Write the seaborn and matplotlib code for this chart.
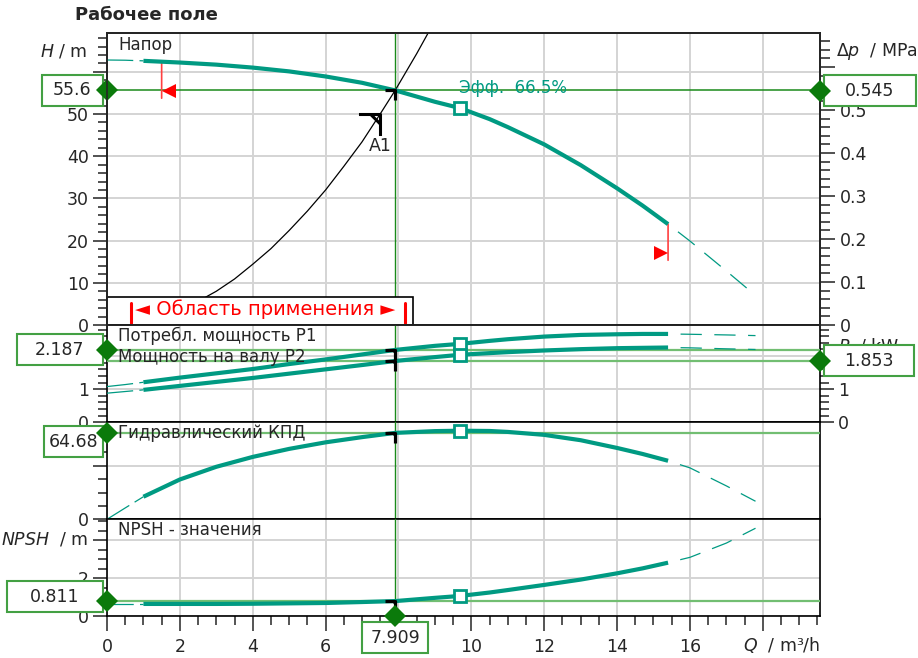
import matplotlib
matplotlib.use("Agg")
import matplotlib.pyplot as plt
import matplotlib.ticker as mticker
from matplotlib.patches import Rectangle
from matplotlib.path import Path
from matplotlib.transforms import offset_copy
import pandas as pd
import seaborn as sns

# ---- данные ----
Q = [0, 0.5, 1, 2, 3, 4, 5, 6, 7, 7.909, 9, 9.69, 10.5, 11, 12, 13, 14, 14.7, 15.4, 16, 17, 17.8]
H = [62.8, 62.75, 62.6, 62.2, 61.7, 61.0, 60.1, 58.9, 57.4, 55.6, 52.9, 51.4, 48.8, 46.9,
     42.8, 37.9, 32.4, 28.3, 23.9, 19.9, 12.8, 7.0]
P1 = [1.08, 1.14, 1.21, 1.35, 1.48, 1.61, 1.76, 1.90, 2.05, 2.187, 2.31, 2.37, 2.46, 2.51,
      2.59, 2.64, 2.66, 2.67, 2.67, 2.66, 2.64, 2.62]
P2 = [0.88, 0.93, 0.98, 1.10, 1.22, 1.34, 1.47, 1.60, 1.73, 1.853, 1.97, 2.04, 2.09, 2.12,
      2.17, 2.21, 2.24, 2.25, 2.26, 2.25, 2.22, 2.20]
ETA = [0, 8.5, 16.9, 29.8, 39.3, 46.7, 52.7, 57.6, 61.5, 64.68, 66.0, 66.3, 66.1, 65.4,
       63.2, 59.2, 53.4, 48.9, 43.8, 38.5, 25.0, 13.5]
NPSH = [0.65, 0.65, 0.65, 0.65, 0.65, 0.66, 0.68, 0.70, 0.75, 0.80, 0.97, 1.07, 1.25, 1.38,
        1.65, 1.93, 2.26, 2.52, 2.82, 3.10, 3.85, 4.63]

# характеристика сети
Q_SYS = [0, 0.5, 1, 1.5, 2, 2.5, 3, 3.5, 4, 4.5, 5, 5.5, 6, 6.5, 7, 7.49, 7.909, 8.5, 9]
H_SYS = [0, 0.2, 0.9, 2.0, 3.6, 5.6, 8.0, 10.9, 14.4, 18.1, 22.4, 27.0, 32.0, 37.6, 43.4,
         49.9, 55.6, 64.3, 72.1]

Q_OP = 7.909
H_OP = 55.6
DP_OP = 0.545
P1_OP = 2.187
P2_OP = 1.853
ETA_OP = 64.68
NPSH_OP = 0.811
Q_BEP = 9.69
ETA_BEP = 66.5
A1 = (7.49, 49.9)
Q_MIN, Q_MAX = 1.5, 15.4   # границы области применения
Q_THICK = (1.0, 15.4)

TEAL = "#009a82"
DKGREEN = "#1a8a1a"
LTGREEN = "#72be72"
BOXGREEN = "#43a043"
MARKGREEN = "#0b7a0b"
GRID = "#d4d4d4"

sns.set_style("ticks")
plt.rcParams["font.family"] = ["DejaVu Sans"]
plt.rcParams["mathtext.fontset"] = "dejavusans"

df = pd.DataFrame({"Q": Q, "H": H, "P1": P1, "P2": P2, "ETA": ETA, "NPSH": NPSH})
i_bep = Q.index(Q_BEP)

W, HH = 918, 658
fig = plt.figure(figsize=(W / 100, HH / 100), dpi=100)
fig.patch.set_facecolor("white")

XL, XR = 107, 820
def add_panel(top, bottom):
    return fig.add_axes([XL / W, 1 - bottom / HH, (XR - XL) / W, (bottom - top) / HH])

ax_h = add_panel(33, 325)
ax_p = add_panel(325, 422.3)
ax_e = add_panel(422.3, 519.3)
ax_n = add_panel(519.3, 616.3)
axes = [ax_h, ax_p, ax_e, ax_n]

XMAX = 19.57
ylims = {ax_h: (0, 69.2), ax_p: (0, 2.94), ax_e: (0, 72.6), ax_n: (0, 5.1)}
majors = {ax_h: 10, ax_p: 1, ax_e: 40, ax_n: 2}
minors = {ax_h: 2, ax_p: 0.2, ax_e: 10, ax_n: 0.5}
shown = {ax_h: [0, 10, 20, 30, 40, 50], ax_p: [0, 1], ax_e: [0], ax_n: [0, 2]}


def label_only(vals):
    def f(v, pos):
        for s in vals:
            if abs(v - s) < 1e-6:
                return f"{s:g}"
        return ""
    return mticker.FuncFormatter(f)


for ax in axes:
    ax.set_xlim(0, XMAX)
    ax.set_ylim(*ylims[ax])
    ax.set_axisbelow(True)
    ax.xaxis.set_major_locator(mticker.MultipleLocator(2))
    ax.xaxis.set_minor_locator(mticker.MultipleLocator(0.5))
    ax.yaxis.set_major_locator(mticker.MultipleLocator(majors[ax]))
    ax.yaxis.set_minor_locator(mticker.MultipleLocator(minors[ax]))
    ax.yaxis.set_major_formatter(label_only(shown[ax]))
    ax.grid(True, which="major", color=GRID, lw=1.4)
    ax.tick_params(axis="y", which="major", direction="out", length=10, width=1.1,
                   labelsize=12.5, pad=3, color="#222222")
    ax.tick_params(axis="y", which="minor", direction="out", length=6.5, width=1.1, color="#222222")
    ax.tick_params(axis="x", which="both", length=0, labelbottom=False)
    for s in ax.spines.values():
        s.set_color("black")
        s.set_linewidth(1.2)

# нижняя ось Q
ax_n.tick_params(axis="x", which="major", length=10.5, width=1.1, labelbottom=True,
                 labelsize=12.5, pad=5)
ax_n.tick_params(axis="x", which="minor", length=6.5, width=1.1)
ax_n.xaxis.set_major_formatter(label_only([0, 2, 4, 6, 10, 12, 14, 16]))

# мощность: шкала и справа
ax_p.tick_params(axis="y", which="both", right=True, labelright=True)

# давление справа
ax_dp = ax_h.twinx()
ax_dp.set_ylim(0, 69.2 * 0.00981)
ax_dp.yaxis.set_major_locator(mticker.MultipleLocator(0.1))
ax_dp.yaxis.set_minor_locator(mticker.MultipleLocator(0.02))
ax_dp.yaxis.set_major_formatter(label_only([0, 0.1, 0.2, 0.3, 0.4, 0.5]))
ax_dp.tick_params(axis="y", which="major", direction="out", length=10.5, width=1.1,
                  labelsize=12.5, pad=3.5, color="#222222")
ax_dp.tick_params(axis="y", which="minor", direction="out", length=7, width=1.1, color="#222222")
for s in ax_dp.spines.values():
    s.set_linewidth(1.2)


def draw_curve(ax, col):
    lo, hi = Q_THICK
    left = df[df.Q <= lo]
    mid = df[(df.Q >= lo) & (df.Q <= hi)]
    right = df[df.Q >= hi]
    sns.lineplot(data=left, x="Q", y=col, ax=ax, color=TEAL, lw=0.9,
                 linestyle=(0, (21, 5)), zorder=4)
    sns.lineplot(data=mid, x="Q", y=col, ax=ax, color=TEAL, lw=3.0,
                 solid_capstyle="butt", solid_joinstyle="round", zorder=4)
    sns.lineplot(data=right, x="Q", y=col, ax=ax, color=TEAL, lw=0.9,
                 linestyle=(17, (17, 10)), zorder=4)
    ax.plot(Q_BEP, df[col].iloc[i_bep], marker="s", ms=8, mfc="white", mec=TEAL,
            mew=2, zorder=6)
    ax.set_xlabel("")
    ax.set_ylabel("")


# рабочая точка: линии
for ax in axes:
    ax.axvline(Q_OP, color=DKGREEN, lw=1.0, zorder=3)
ax_h.axhline(H_OP, color=DKGREEN, lw=1.1, zorder=3)
ax_p.axhline(P1_OP, color=LTGREEN, lw=1.6, zorder=3)
ax_p.axhline(P2_OP, color=LTGREEN, lw=1.6, zorder=3)
ax_e.axhline(ETA_OP, color=LTGREEN, lw=1.6, zorder=3)
ax_n.axhline(NPSH_OP, color=LTGREEN, lw=1.6, zorder=3)

# кривая сети
sns.lineplot(x=Q_SYS, y=H_SYS, ax=ax_h, color="black", lw=0.9, zorder=3)

draw_curve(ax_h, "H")
draw_curve(ax_p, "P1")
draw_curve(ax_p, "P2")
draw_curve(ax_e, "ETA")
draw_curve(ax_n, "NPSH")

# уголки рабочей точки
corner = Path([(-1, 0), (0, 0), (0, -1)], [Path.MOVETO, Path.LINETO, Path.LINETO])
corner_tri = Path([(-1, 0), (0, 0), (0, -1), (-1, 0)],
                  [Path.MOVETO, Path.LINETO, Path.LINETO, Path.CLOSEPOLY])
for ax, val in [(ax_h, H_OP), (ax_p, P1_OP), (ax_p, P2_OP), (ax_e, ETA_OP), (ax_n, NPSH_OP)]:
    ax.plot(Q_OP, val, marker=corner, ms=15, mew=2.3, mec="black", mfc="none",
            zorder=7, clip_on=False)
    ax.plot(Q_OP, val, marker=corner_tri, ms=5.5, mew=0, mfc="black", zorder=7)

a1_mark = Path([(-1, 0), (0, 0), (0, -1), (-0.45, 0), (0, -0.45)],
               [Path.MOVETO, Path.LINETO, Path.LINETO, Path.MOVETO, Path.LINETO])
ax_h.plot(*A1, marker=a1_mark, ms=31, mew=2.2, mec="black", mfc="none", zorder=7)
ax_h.annotate("A1", xy=A1, xytext=(0, -23), textcoords="offset points",
              ha="center", va="center", fontsize=12.5, zorder=7)

# границы области применения (красные)
h_min = df.H.iloc[Q.index(1)] - 0.3
h_max = df.H.iloc[Q.index(Q_MAX)]
for q, h, mk, dx in [(Q_MIN, h_min, "<", 5), (Q_MAX, h_max, ">", -5)]:
    ax_h.annotate("", xy=(q, h), xytext=(0, -26), textcoords="offset points",
                  xycoords="data", arrowprops=dict(arrowstyle="-", color="#ff4040", lw=1.2,
                                                   shrinkA=0, shrinkB=0))
    ax_h.plot(q, h, marker=mk, ms=10, color="#ff0000", mew=0, zorder=6,
              transform=offset_copy(ax_h.transData, fig=fig, x=dx, y=-21, units="points"))

ax_h.annotate(f"Эфф.  {ETA_BEP}%", xy=(Q_BEP, df.H.iloc[i_bep]), xytext=(-1, 8),
              textcoords="offset points", ha="left", va="bottom", color=TEAL,
              fontsize=12, zorder=7)

# плашка "Область применения"
bw = (413.3 - XL) / (XR - XL)
bh = (325 - 296.7) / 292
ax_h.add_patch(Rectangle((0, 0), bw, bh, transform=ax_h.transAxes, fc="white",
                         ec="black", lw=1.2, zorder=8, clip_on=False))
for xb in [(131 - XL) / (XR - XL), (405 - XL) / (XR - XL)]:
    ax_h.plot([xb, xb], [0.006, (325 - 302.7) / 292], transform=ax_h.transAxes,
              color="#ff0000", lw=2.2, zorder=9)
ax_h.text((265.5 - XL) / (XR - XL), (325 - 309.5) / 292, "◄ Область применения ►",
          transform=ax_h.transAxes, ha="center", va="center", color="#ff0000",
          fontsize=14, zorder=9)

# подписи панелей
for ax, txt, ypx in [(ax_h, "Напор", 45), (ax_p, "Потребл. мощность P1", 336),
                     (ax_p, "Мощность на валу P2", 357), (ax_e, "Гидравлический КПД", 433),
                     (ax_n, "NPSH - значения", 530)]:
    ax.text(118 / W, 1 - ypx / HH, txt, transform=fig.transFigure, ha="left",
            va="center", fontsize=12, zorder=5)

fig.text(75 / W, 1 - 15 / HH, "Рабочее поле", ha="left", va="center",
         fontsize=13, fontweight="bold")
fig.text(87 / W, 1 - 52 / HH, "$H$ / m", ha="right", va="center", fontsize=12.5)
fig.text(836 / W, 1 - 52 / HH, r"$\Delta p$  / MPa", ha="left", va="center", fontsize=12.5)
ax_p.text(838 / W, 1 - 346 / HH, "$P$  / kW", transform=fig.transFigure, ha="left",
          va="center", fontsize=12.5, zorder=1)
fig.text(88 / W, 1 - 539 / HH, "$NPSH$  / m", ha="right", va="center", fontsize=12.5)
fig.text(820 / W, 1 - 645 / HH, "$Q$  / m³/h", ha="right", va="center", fontsize=12.5)


# значения рабочей точки в рамках
def value_box(ax, x, y, text, wpx, side, margin=4):
    px, py = ax.transData.transform((x, y))
    bb = ax.get_window_extent()
    top_lim, bot_lim = HH - bb.y1 + margin, HH - bb.y0 - margin
    hpx = 31
    if side == "bottom":
        cy = HH - bb.y0 + 6 + hpx / 2
    else:
        cy = min(max(HH - py, top_lim + hpx / 2), bot_lim - hpx / 2)
    if side == "left":
        x0 = 103 - wpx
    elif side == "right":
        x0 = 824
    else:
        x0 = px - wpx / 2
    ax.add_patch(Rectangle((x0 / W, 1 - (cy + hpx / 2) / HH), wpx / W, hpx / HH,
                           transform=fig.transFigure, fc="white", ec=BOXGREEN, lw=1.5,
                           zorder=10, clip_on=False))
    ax.text((x0 + wpx / 2) / W, 1 - cy / HH, text, transform=fig.transFigure,
            ha="center", va="center", fontsize=12.5, zorder=11, clip_on=False)
    ax.plot(x, y, marker="D", ms=11.5, color=MARKGREEN, mew=0, zorder=12, clip_on=False)


value_box(ax_h, 0, H_OP, "55.6", 61, "left")
value_box(ax_dp, XMAX, DP_OP, "0.545", 92, "right")
value_box(ax_p, 0, P1_OP, "2.187", 86, "left")
value_box(ax_p, XMAX, P2_OP, "1.853", 90, "right")
value_box(ax_e, 0, ETA_OP, "64.68", 59, "left")
value_box(ax_n, 0, NPSH_OP, "0.811", 96, "left")
value_box(ax_n, Q_OP, 0, "7.909", 66, "bottom")

fig.savefig("out.png", dpi=100, facecolor="white")
